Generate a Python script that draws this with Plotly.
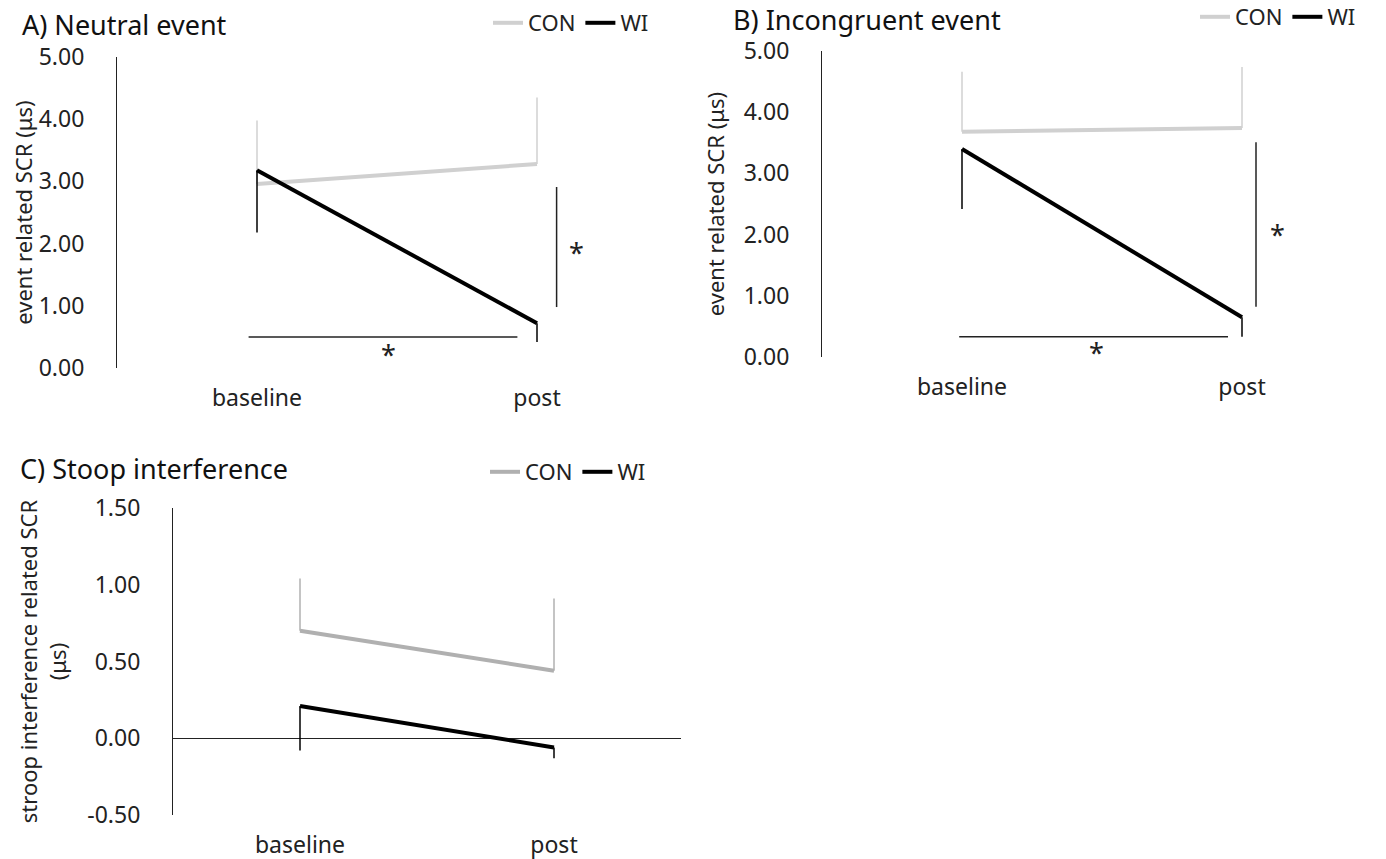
import plotly.graph_objects as go

categories = ["baseline", "post"]

# Panel A: Neutral event
a_con = [2.96, 3.28]
a_con_err_up = [1.02, 1.07]
a_wi = [3.18, 0.72]
a_wi_err_down = [1.00, 0.30]

# Panel B: Incongruent event
b_con = [3.68, 3.74]
b_con_err_up = [0.98, 1.00]
b_wi = [3.40, 0.65]
b_wi_err_down = [0.98, 0.32]

# Panel C: Stroop interference
c_con = [0.70, 0.44]
c_con_err_up = [0.34, 0.47]
c_wi = [0.21, -0.06]
c_wi_err_down = [0.29, 0.07]

ab_ticks = [0, 1, 2, 3, 4, 5]
ab_ticktext = ["0.00", "1.00", "2.00", "3.00", "4.00", "5.00"]
c_ticks = [-0.5, 0, 0.5, 1.0, 1.5]
c_ticktext = ["-0.50", "0.00", "0.50", "1.00", "1.50"]

FONT = "Noto Sans"
CON_AB = "#d0d0d0"
CON_C = "#b0b0b0"
WI = "#000000"

fig = go.Figure()

def add_pair(con, con_up, wi, wi_down, xa, ya, legend, con_color):
    fig.add_trace(go.Scatter(
        x=categories, y=con, mode="lines", name="CON",
        line=dict(color=con_color, width=4),
        error_y=dict(type="data", symmetric=False, array=con_up,
                     arrayminus=[0] * len(con), thickness=1.5, width=0, color=con_color),
        xaxis=xa, yaxis=ya, legend=legend))
    fig.add_trace(go.Scatter(
        x=categories, y=wi, mode="lines", name="WI",
        line=dict(color=WI, width=4),
        error_y=dict(type="data", symmetric=False, array=[0] * len(wi),
                     arrayminus=wi_down, thickness=1.5, width=0, color=WI),
        xaxis=xa, yaxis=ya, legend=legend))

add_pair(a_con, a_con_err_up, a_wi, a_wi_err_down, "x", "y", "legend", CON_AB)
add_pair(b_con, b_con_err_up, b_wi, b_wi_err_down, "x2", "y2", "legend2", CON_AB)
add_pair(c_con, c_con_err_up, c_wi, c_wi_err_down, "x3", "y3", "legend3", CON_C)

# page body has an 8px margin; work in screen pixels and shift
OFF = 8
W, H = 1386 - OFF, 859 - OFF
def px(x):
    return (x - OFF) / W
def py(y):
    return 1 - (y - OFF) / H
def dx(a, b):
    return [px(a), px(b)]
def dy(top, bottom):
    return [py(bottom), py(top)]

xcommon = dict(type="category", range=[-0.5, 1.5], showline=False, showgrid=False,
               zeroline=False, ticks="", tickfont=dict(size=23, color="#222"),
               ticklabelstandoff=14, automargin=False)
ycommon = dict(showline=True, linecolor="#222", linewidth=1.2, showgrid=False,
               ticks="", tickfont=dict(size=23, color="#222"),
               ticklabelstandoff=27, title_font=dict(size=22, color="#222"),
               automargin=False)

fig.update_layout(
    width=W, height=H, margin=dict(l=0, r=0, t=0, b=0, autoexpand=False),
    paper_bgcolor="white", plot_bgcolor="white",
    font=dict(family=FONT, color="#222"),
    xaxis=dict(xcommon, domain=dx(117, 677), anchor="y"),
    yaxis=dict(ycommon, domain=dy(57, 368), range=[0, 5], tickvals=ab_ticks, ticktext=ab_ticktext,
               anchor="x", title=dict(text="event related SCR (μs)", standoff=12)),
    xaxis2=dict(xcommon, domain=dx(822, 1382), anchor="y2"),
    yaxis2=dict(ycommon, domain=dy(51, 357), range=[0, 5], tickvals=ab_ticks, ticktext=ab_ticktext,
                anchor="x2", title=dict(text="event related SCR (μs)", standoff=12)),
    xaxis3=dict(xcommon, domain=dx(173, 681), anchor="y3"),
    yaxis3=dict(ycommon, domain=dy(508, 815), range=[-0.5, 1.5], tickvals=c_ticks, ticktext=c_ticktext,
                anchor="x3", zeroline=True, zerolinecolor="#222", zerolinewidth=1.2,
                title=dict(text="stroop interference related SCR<br>(μs)", standoff=14)),
    showlegend=True,
)

leg = dict(orientation="h", xanchor="left", yanchor="middle", font=dict(size=22, color="#222"),
           bgcolor="rgba(0,0,0,0)", itemwidth=30, tracegroupgap=0)
fig.update_layout(
    legend=dict(leg, x=px(488), y=py(23)),
    legend2=dict(leg, x=px(1195), y=py(17)),
    legend3=dict(leg, x=px(485), y=py(472)),
)

# Titles
titles = [("A) Neutral event", 20, 24), ("B) Incongruent event", 731, 19), ("C) Stoop interference", 18, 468)]
for text, tx, ty in titles:
    fig.add_annotation(text=text, x=px(tx), y=py(ty), xref="paper", yref="paper",
                       xanchor="left", yanchor="middle", showarrow=False,
                       font=dict(size=27, color="#111"))

# Significance markers
line_style = dict(color="#222", width=1.5)
star_font = dict(size=27, color="#222")
# Panel A
fig.add_shape(type="line", xref="x", yref="y", x0=-0.03, x1=0.93, y0=0.50, y1=0.50, line=line_style)
fig.add_shape(type="line", xref="x", yref="y", x0=1.07, x1=1.07, y0=0.98, y1=2.91, line=line_style)
fig.add_annotation(text="*", xref="x", yref="y", x=0.47, y=0.22, showarrow=False, font=star_font)
fig.add_annotation(text="*", xref="x", yref="y", x=1.14, y=1.85, showarrow=False, font=star_font)
# Panel B
fig.add_shape(type="line", xref="x2", yref="y2", x0=-0.01, x1=0.95, y0=0.33, y1=0.33, line=line_style)
fig.add_shape(type="line", xref="x2", yref="y2", x0=1.05, x1=1.05, y0=0.82, y1=3.51, line=line_style)
fig.add_annotation(text="*", xref="x2", yref="y2", x=0.48, y=0.08, showarrow=False, font=star_font)
fig.add_annotation(text="*", xref="x2", yref="y2", x=1.125, y=2.0, showarrow=False, font=star_font)

fig.write_html("out.html")
